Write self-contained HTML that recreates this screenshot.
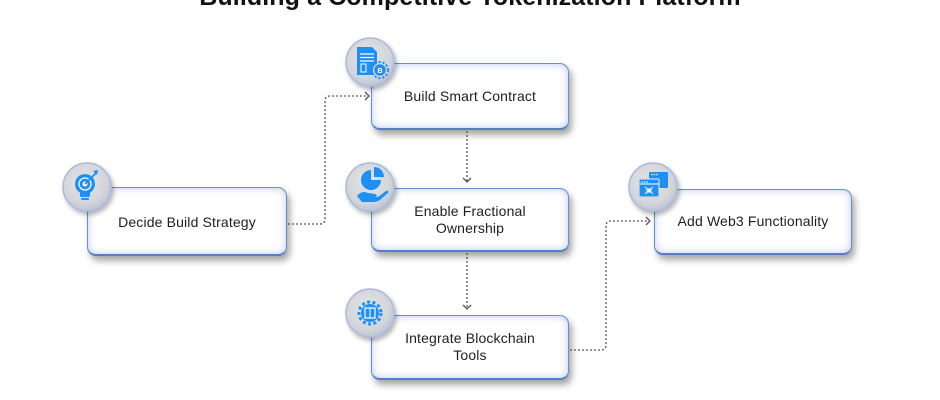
<!DOCTYPE html>
<html>
<head>
<meta charset="utf-8">
<style>
  html,body{margin:0;padding:0;background:#fff;}
  body{width:940px;height:400px;position:relative;overflow:hidden;font-family:"Liberation Sans",Arial,sans-serif;}
  .title{position:absolute;left:0;width:940px;text-align:center;top:-15px;font-size:25px;font-weight:bold;color:#111;line-height:25px;letter-spacing:0.1px;}
  .box{position:absolute;box-sizing:border-box;background:#fff;border:1.5px solid #6d8dd2;border-bottom:2.5px solid #5a7cc6;border-radius:9px;
       box-shadow:inset 0 0 8px rgba(110,150,225,0.5), 3px 5px 7px rgba(0,0,0,0.35);
       display:flex;align-items:center;justify-content:center;text-align:center;
       font-size:14px;color:#1e1e1e;line-height:17px;letter-spacing:0.15px;}
  svg{position:absolute;left:0;top:0;}
</style>
</head>
<body>
<div class="title">Building a Competitive Tokenization Platform</div>

<div class="box" style="left:87px;top:187px;width:200px;height:69px;padding-top:2px;">Decide Build Strategy</div>
<div class="box" style="left:371px;top:63px;width:198px;height:67px;">Build Smart Contract</div>
<div class="box" style="left:371px;top:188px;width:198px;height:64px;">Enable Fractional<br>Ownership</div>
<div class="box" style="left:371px;top:315px;width:198px;height:65px;">Integrate Blockchain<br>Tools</div>
<div class="box" style="left:654px;top:189px;width:198px;height:66px;">Add Web3 Functionality</div>

<svg width="940" height="400" viewBox="0 0 940 400">
  <defs>
    <radialGradient id="cg" cx="45%" cy="40%" r="60%">
      <stop offset="0%" stop-color="#e4e5e8"/>
      <stop offset="75%" stop-color="#d3d5da"/>
      <stop offset="100%" stop-color="#bcc4d6"/>
    </radialGradient>
    <filter id="sh" x="-30%" y="-30%" width="160%" height="160%">
      <feDropShadow dx="2" dy="3" stdDeviation="2.5" flood-color="#000" flood-opacity="0.3"/>
    </filter>
  </defs>

  <!-- connectors -->
  <g fill="none" stroke="#555" stroke-width="1.3" stroke-dasharray="2 2">
    <path d="M288 224 H320 Q325 224 325 219 V101 Q325 96 330 96 H368"/>
    <path d="M467 131 V182"/>
    <path d="M467 253 V309"/>
    <path d="M570 350 H601 Q606 350 606 345 V226 Q606 221 611 221 H650"/>
  </g>
  <g fill="none" stroke="#555" stroke-width="1.3">
    <polyline points="365,92 369,96 365,100"/>
    <polyline points="463,178 467,182 471,178"/>
    <polyline points="463,305 467,309 471,305"/>
    <polyline points="646,217 650,221 646,225"/>
  </g>

  <!-- icon circles -->
  <g filter="url(#sh)" fill="url(#cg)" stroke="#a9badd" stroke-width="1.5">
    <circle cx="87" cy="187" r="24"/>
    <circle cx="370" cy="62" r="24"/>
    <circle cx="370" cy="187" r="24"/>
    <circle cx="370" cy="313" r="24"/>
    <circle cx="653" cy="187" r="24"/>
  </g>

  <!-- icon 1: lightbulb with target -->
  <g fill="#1e8ff5">
    <circle cx="85" cy="184" r="10"/>
    <rect x="80" y="191" width="10" height="6" rx="1"/>
    <rect x="81" y="198" width="8" height="2" rx="1"/>
    <circle cx="85" cy="184" r="6" fill="none" stroke="#fff" stroke-width="1.3"/>
    <circle cx="85" cy="184" r="2.5" fill="#fff"/>
    <line x1="85" y1="184" x2="96" y2="173" stroke="#1e8ff5" stroke-width="1.8"/>
    <polygon points="93,171 98,170 97,175"/>
  </g>

  <!-- icon 2: document + gear -->
  <g fill="#1e8ff5">
    <path d="M357 47 H372 L377 52 V75 H357 Z"/>
    <g stroke="#fff" stroke-width="1.2">
      <line x1="360" y1="54" x2="374" y2="54"/>
      <line x1="360" y1="57.5" x2="374" y2="57.5"/>
      <line x1="360" y1="61" x2="374" y2="61"/>
    </g>
    <rect x="361" y="64" width="5" height="8" fill="none" stroke="#fff" stroke-width="1"/>
    <circle cx="380" cy="70" r="6.5" stroke="#d6d8dc" stroke-width="1.5"/>
    <circle cx="380" cy="70" r="8" fill="none" stroke="#1e8ff5" stroke-width="2" stroke-dasharray="2.2 1.8"/>
    <text x="380" y="73" font-family="Liberation Sans, sans-serif" font-size="7" font-weight="bold" fill="#fff" text-anchor="middle">B</text>
  </g>

  <!-- icon 3: pie chart on hand -->
  <g fill="#1e8ff5">
    <path d="M371 180 L371 170 A10 10 0 1 0 381 180 Z"/>
    <path d="M374 177 L374 167 A10 10 0 0 1 384 177 Z"/>
    <path d="M357 196 Q362 190 368 193 L375 194 Q378 195 376 197 L369 197 L378 197 L386 191 Q389 190 388 193 L380 200 Q377 202 372 202 L362 202 Z"/>
  </g>

  <!-- icon 4: gear with block -->
  <g>
    <circle cx="370" cy="313" r="11" fill="none" stroke="#1e8ff5" stroke-width="3" stroke-dasharray="3 2.4"/>
    <circle cx="370" cy="313" r="9" fill="#1e8ff5"/>
    <rect x="365" y="308" width="10" height="10" fill="none" stroke="#fff" stroke-width="1.2"/>
    <line x1="370" y1="308" x2="370" y2="318" stroke="#fff" stroke-width="1"/>
  </g>

  <!-- icon 5: browser windows -->
  <g fill="#1e8ff5">
    <rect x="649" y="172" width="19" height="16" rx="1"/>
    <rect x="639" y="179" width="20" height="18" rx="1" stroke="#d6d8dc" stroke-width="1.2"/>
    <g fill="#fff">
      <circle cx="652" cy="174.5" r="0.8"/><circle cx="654.5" cy="174.5" r="0.8"/><circle cx="657" cy="174.5" r="0.8"/>
      <circle cx="642" cy="182" r="0.8"/><circle cx="644.5" cy="182" r="0.8"/><circle cx="647" cy="182" r="0.8"/>
    </g>
    <line x1="639.5" y1="184" x2="658.5" y2="184" stroke="#fff" stroke-width="1"/>
    <g stroke="#fff" stroke-width="1" fill="none">
      <line x1="645" y1="187" x2="653" y2="194"/>
      <line x1="653" y1="187" x2="645" y2="194"/>
      <rect x="647" y="189" width="4" height="3"/>
    </g>
  </g>
</svg>
</body>
</html>
